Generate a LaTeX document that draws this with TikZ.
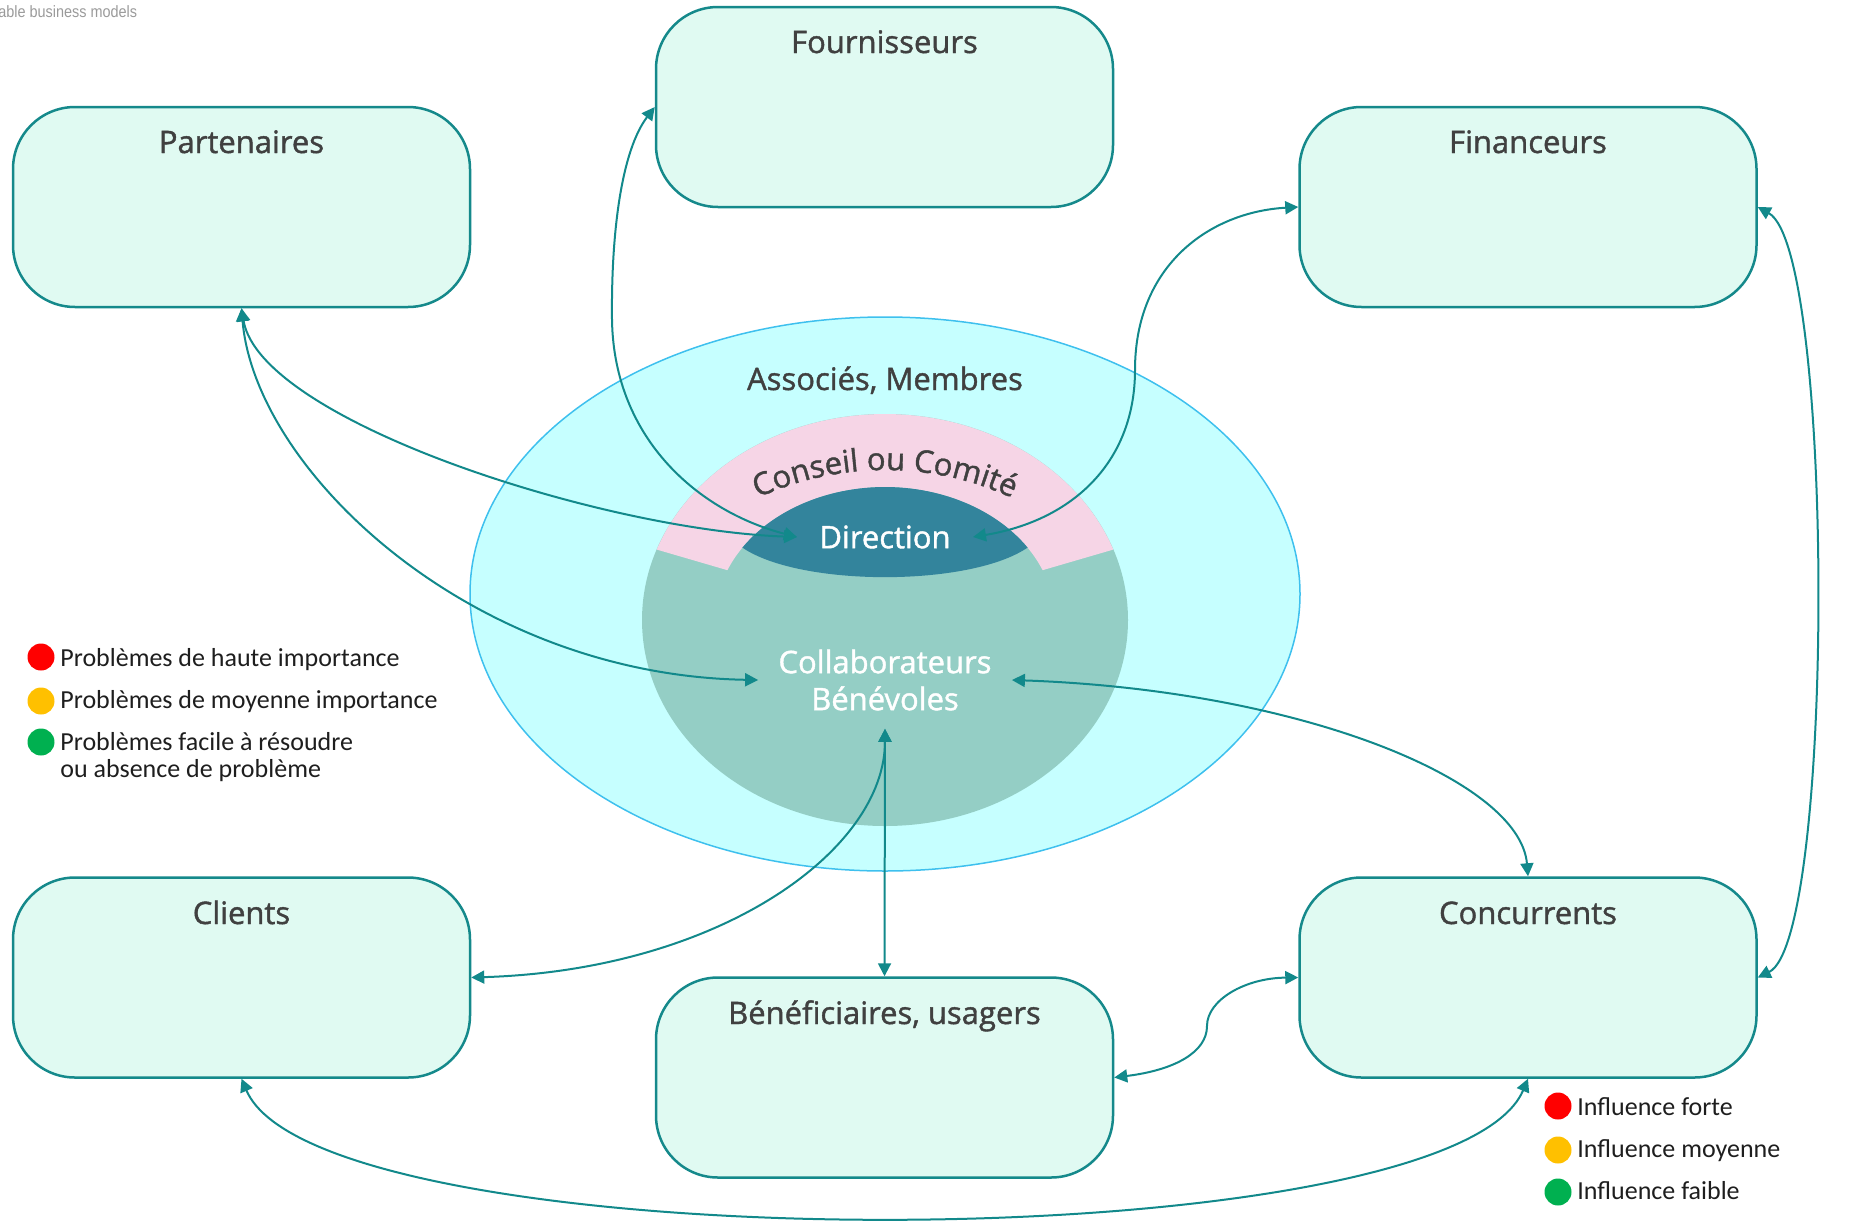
\documentclass[tikz,border=0pt]{standalone}
\usepackage{fontspec}
\setmainfont{Open Sans}
\newfontfamily\semib[FakeBold=1.3]{Open Sans}
\newfontfamily\legendfont{Carlito}
\newfontfamily\notefont[FakeStretch=0.88]{Liberation Sans}
\usetikzlibrary{arrows.meta,decorations.text}
\definecolor{boxfill}{HTML}{E0FAF2}
\definecolor{boxline}{HTML}{15898B}
\definecolor{arrowc}{HTML}{12898B}
\definecolor{cyanc}{HTML}{C6FFFF}
\definecolor{ellline}{HTML}{3EC0EE}
\definecolor{greenc}{HTML}{94CEC5}
\definecolor{pinkc}{HTML}{F6D5E6}
\definecolor{dirc}{HTML}{33849C}
\definecolor{titlec}{HTML}{404040}
\definecolor{legc}{HTML}{1E1E1E}
\definecolor{notec}{HTML}{9A9A9A}
\definecolor{redc}{HTML}{FF0000}
\definecolor{orangec}{HTML}{FFC000}
\definecolor{greenl}{HTML}{00B050}
\begin{document}
\begin{tikzpicture}[x=0.5pt,y=-0.5pt,
  box/.style={draw=boxline, fill=boxfill, line width=1.25pt, rounded corners=31pt,
    minimum width=228.5pt, minimum height=100pt, inner sep=0pt},
  ttl/.style={font=\semib\fontsize{15.5}{18}\selectfont, text=titlec, inner sep=0pt, anchor=base},
  conn/.style={draw=arrowc, line width=1pt,
    {Triangle[length=6.5pt,width=6.5pt]}-{Triangle[length=6.5pt,width=6.5pt]}},
  dotc/.style={circle, minimum size=13.5pt, inner sep=0pt},
  leg/.style={font=\legendfont\fontsize{13}{14}\selectfont, text=legc, inner sep=0pt, anchor=base west}]
\useasboundingbox (0,0) rectangle (1858,1221);

% note
\node[font=\notefont\fontsize{8.2}{10}\selectfont, text=notec, anchor=base west, inner sep=0pt] (note) at (-2,17) {able business models};

% central shapes
\draw[draw=ellline, fill=cyanc, line width=0.75pt] (885,594) ellipse [x radius=207.5pt, y radius=138.5pt];
\fill[greenc] (885,620) ellipse [x radius=121.5pt, y radius=103pt];
\fill[pinkc] plot[domain=20:160,samples=70] ({885+243*cos(180-\x)},{620-206*sin(180-\x)})
  -- plot[domain=22:158,samples=70] ({885+170*cos(\x)},{620-133*sin(\x)}) -- cycle;
\fill[dirc] plot[domain=33:147,samples=60] ({885+170*cos(180-\x)},{620-133*sin(180-\x)})
  .. controls (970,587) and (800,587) .. (742.4,547.6) -- cycle;

\coordinate (arcc) at (885,773);
\path[decorate, decoration={text along path, text align=center, text color=titlec,
  text={|\semib\fontsize{15.5}{18}\selectfont|Conseil ou Comité}}]
  ([shift={(126:151.5pt)}]arcc) arc[start angle=126, end angle=54, radius=151.5pt];

\node[ttl] (A) at (885,390) {Associés, Membres};
\node[font=\semib\fontsize{15.5}{18}\selectfont, text=white, inner xsep=11pt, inner ysep=3pt] (D) at (885,537) {Direction};
\node[font=\semib\fontsize{15.5}{18.5}\selectfont, text=white, align=center, inner xsep=10pt, inner ysep=9pt] (Co) at (885,680) {Collaborateurs\\Bénévoles};

% boxes
\node[box] (P) at (241.5,207) {};
\node[box] (F) at (884.5,107) {};
\node[box] (Fi) at (1528,207) {};
\node[box] (Cl) at (241.5,977.5) {};
\node[box] (B) at (884.5,1077.5) {};
\node[box] (C) at (1528,977.5) {};
\node[ttl] (Pt) at (241.5,153) {Partenaires};
\node[ttl] (Ft) at (884.5,53) {Fournisseurs};
\node[ttl] (Fit) at (1528,153) {Financeurs};
\node[ttl] (Clt) at (241.5,924) {Clients};
\node[ttl] (Bt) at (884.5,1024) {Bénéficiaires, usagers};
\node[ttl] (Ct) at (1528,924) {Concurrents};

% connectors
\draw[conn] (P.south) .. controls (260,420) and (600,530) .. (D.west);
\draw[conn] (P.south) .. controls (255,470) and (470,675) .. (Co.west);
\draw[conn] (D.west) .. controls (700,512) and (614,440) .. (612,320)
  .. controls (611,230) and (622,150) .. (F.west);
\draw[conn] (D.east) .. controls (1075,520) and (1135,460) .. (1135,370)
  .. controls (1135,265) and (1210,212) .. (Fi.west);
\draw[conn] (Fi.east) .. controls (1835,250) and (1835,940) .. (C.east);
\draw[conn] (Co.south) -- (B.north);
\draw[conn] (Co.south) .. controls (885,850) and (720,970) .. (Cl.east);
\draw[conn] (Co.east) .. controls (1300,690) and (1520,780) .. (C.north);
\draw[conn] (B.east) .. controls (1175,1070) and (1207,1052) .. (1207,1026)
  .. controls (1207,1000) and (1245,978) .. (C.west);
\draw[conn] (Cl.south) .. controls (320,1263) and (1450,1263) .. (C.south);

% legends
\node[dotc, fill=redc] (l1) at (41,657) {};
\node[leg] (l1t) at (60,666) {Problèmes de haute importance};
\node[dotc, fill=orangec] (l2) at (41,701) {};
\node[leg] (l2t) at (60,708) {Problèmes de moyenne importance};
\node[dotc, fill=greenl] (l3) at (41,742) {};
\node[leg] (l3t) at (60,750) {Problèmes facile à résoudre};
\node[leg] (l3u) at (60,777) {ou absence de problème};

\node[dotc, fill=redc] (r1) at (1558,1106) {};
\node[leg] (r1t) at (1577,1115) {Influence forte};
\node[dotc, fill=orangec] (r2) at (1558,1150) {};
\node[leg] (r2t) at (1577,1157) {Influence moyenne};
\node[dotc, fill=greenl] (r3) at (1558,1192) {};
\node[leg] (r3t) at (1577,1199) {Influence faible};
\end{tikzpicture}
\end{document}
